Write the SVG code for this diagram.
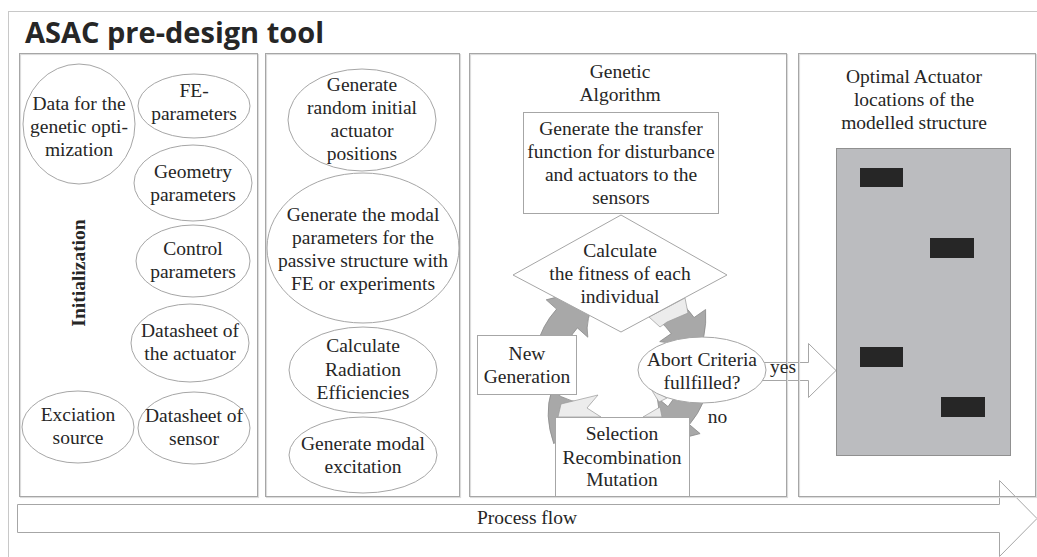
<svg xmlns="http://www.w3.org/2000/svg" width="1037" height="557" viewBox="0 0 1037 557">
<style>
.t{font-family:"Liberation Serif","Times New Roman",serif;font-size:19.5px;fill:#262626;text-anchor:middle}
.b{font-weight:bold}
.title{font-family:"Open Sans","Liberation Sans",sans-serif;font-weight:700;font-size:29px;fill:#262626}
.panel{fill:none;stroke:#a6a6a6;stroke-width:1}
.shadow{fill:none;stroke:#dcdcdc;stroke-width:1.2}
.node{fill:#fff;stroke:#a6a6a6;stroke-width:1}
.ring{fill:#a8a8a8;stroke:#8a8a8a;stroke-width:0.8;stroke-linejoin:round}
.light{fill:#ececec;stroke:#9a9a9a;stroke-width:0.7}
.blk{fill:#262626}
.flow{fill:#fff;stroke:#a6a6a6;stroke-width:1}
</style>
<rect x="0" y="0" width="1037" height="557" fill="#fff"/>
<rect x="8.5" y="11.5" width="1100" height="600" fill="none" stroke="#c8c8c8" stroke-width="1"/>
<text class="title" x="25" y="43">ASAC pre-design tool</text>

<g id="connectors">
  <polygon class="flow" points="17.5,504.5 999.5,504.5 999.5,480.5 1037,518.5 999.5,556.5 999.5,532.5 17.5,532.5"/>
  <polygon class="flow" points="750,362.5 808.5,362.5 808.5,343.5 836,370.5 808.5,397.5 808.5,380.5 750,380.5"/>
  <path class="ring" d="M537.0,390.8 A88,88 0 0 1 556.6,309.1 L546.2,299.8 Q574.2,290.9 596.7,298.5 Q584.6,318.8 587.8,337.2 L577.4,327.9 A60,60 0 0 0 564.0,383.5 Z"/>
  <path class="ring" d="M652.1,285.3 A88,88 0 0 1 694.1,317.5 L705.6,309.5 Q707.4,337.8 695.3,357.7 Q678.1,342.4 659.7,341.6 L671.2,333.6 A60,60 0 0 0 642.5,311.6 Z"/>
  <path class="ring" d="M709.7,375.7 A88,88 0 0 1 689.4,424.6 L700.1,433.6 Q673.9,442.0 652.1,435.6 Q661.6,415.2 657.2,397.6 L668.0,406.6 A60,60 0 0 0 681.8,373.2 Z"/>
  <path class="ring" d="M606.7,454.7 A88,88 0 0 1 563.1,433.4 L553.8,443.8 Q543.7,414.5 551.6,390.9 Q572.0,404.9 591.2,402.2 L581.9,412.6 A60,60 0 0 0 611.6,427.1 Z"/>
  <polygon class="light" points="649,317 685,298 688,313 667,322 660,327"/>
  <polygon class="light" points="558,417 561,404 598,395 587,408 601,417"/>
  <polygon class="light" points="651,389 667,398 659,402"/>
  <polygon class="light" points="643,417 660,407 662,417"/>
</g>

<g id="panels">
  <rect class="shadow" x="20.5" y="54.5" width="238" height="443"/>
  <rect class="panel" x="19.5" y="53.5" width="238" height="443"/>
  <rect class="shadow" x="266.5" y="54.5" width="194" height="443"/>
  <rect class="panel" x="265.5" y="53.5" width="194" height="443"/>
  <rect class="shadow" x="470.5" y="54.5" width="317" height="443"/>
  <rect class="panel" x="469.5" y="53.5" width="317" height="443"/>
  <rect class="shadow" x="799.5" y="54.5" width="237" height="443"/>
  <rect class="panel" x="798.5" y="53.5" width="237" height="443"/>
</g>

<g id="initialization-label">
  <text class="t b" transform="translate(85,273) rotate(-90)">Initialization</text>
</g>
<g id="data-genetic">
  <ellipse class="node" cx="79" cy="124" rx="56" ry="60"/>
  <text class="t" x="79" y="110">Data for the</text>
  <text class="t" x="79" y="133">genetic opti-</text>
  <text class="t" x="79" y="156">mization</text>
</g>
<g id="fe-parameters">
  <ellipse class="node" cx="194" cy="106" rx="56" ry="32"/>
  <text class="t" x="194" y="97">FE-</text>
  <text class="t" x="194" y="120">parameters</text>
</g>
<g id="geometry-parameters">
  <ellipse class="node" cx="193" cy="183" rx="59" ry="38"/>
  <text class="t" x="193" y="178">Geometry</text>
  <text class="t" x="193" y="201">parameters</text>
</g>
<g id="control-parameters">
  <ellipse class="node" cx="193" cy="261" rx="57" ry="36"/>
  <text class="t" x="193" y="255">Control</text>
  <text class="t" x="193" y="278">parameters</text>
</g>
<g id="datasheet-actuator">
  <ellipse class="node" cx="190" cy="343" rx="59" ry="39"/>
  <text class="t" x="190" y="337">Datasheet of</text>
  <text class="t" x="190" y="360">the actuator</text>
</g>
<g id="excitation-source">
  <ellipse class="node" cx="78" cy="427" rx="56" ry="36"/>
  <text class="t" x="78" y="421">Exciation</text>
  <text class="t" x="78" y="444">source</text>
</g>
<g id="datasheet-sensor">
  <ellipse class="node" cx="194" cy="428" rx="56" ry="36"/>
  <text class="t" x="194" y="422">Datasheet of</text>
  <text class="t" x="194" y="445">sensor</text>
</g>

<g id="random-positions">
  <ellipse class="node" cx="362" cy="120" rx="74" ry="51"/>
  <text class="t" x="362" y="91">Generate</text>
  <text class="t" x="362" y="114">random initial</text>
  <text class="t" x="362" y="137">actuator</text>
  <text class="t" x="362" y="160">positions</text>
</g>
<g id="modal-parameters">
  <ellipse class="node" cx="363" cy="248" rx="96" ry="75"/>
  <text class="t" x="363" y="221">Generate the modal</text>
  <text class="t" x="363" y="244">parameters for the</text>
  <text class="t" x="363" y="267">passive structure with</text>
  <text class="t" x="363" y="290">FE or experiments</text>
</g>
<g id="radiation">
  <ellipse class="node" cx="363" cy="370" rx="74" ry="43"/>
  <text class="t" x="363" y="352">Calculate</text>
  <text class="t" x="363" y="375.5">Radiation</text>
  <text class="t" x="363" y="399">Efficiencies</text>
</g>
<g id="modal-excitation">
  <ellipse class="node" cx="363" cy="455" rx="74" ry="38"/>
  <text class="t" x="363" y="450">Generate modal</text>
  <text class="t" x="363" y="473">excitation</text>
</g>

<g id="genetic-title">
  <text class="t" x="620" y="78">Genetic</text>
  <text class="t" x="620" y="101">Algorithm</text>
</g>
<g id="transfer-function">
  <rect class="node" x="523.5" y="112.5" width="195" height="101"/>
  <text class="t" x="621" y="135">Generate the transfer</text>
  <text class="t" x="621" y="158">function for disturbance</text>
  <text class="t" x="621" y="181">and actuators to the</text>
  <text class="t" x="621" y="204">sensors</text>
</g>
<g id="fitness">
  <polygon class="node" points="621,215 727,275 621,332 513,275"/>
  <text class="t" x="620" y="257">Calculate</text>
  <text class="t" x="620" y="280">the fitness of each</text>
  <text class="t" x="620" y="303">individual</text>
</g>
<g id="new-generation">
  <rect class="node" x="477.5" y="335.5" width="99" height="59"/>
  <text class="t" x="527" y="360">New</text>
  <text class="t" x="527" y="383">Generation</text>
</g>
<g id="abort">
  <ellipse class="node" cx="702" cy="370" rx="64" ry="33"/>
  <text class="t" x="702" y="366">Abort Criteria</text>
  <text class="t" x="702" y="389">fullfilled?</text>
</g>
<g id="selection">
  <rect class="node" x="555.5" y="417.5" width="134" height="79"/>
  <text class="t" x="622" y="440">Selection</text>
  <text class="t" x="622" y="464">Recombination</text>
  <text class="t" x="622" y="486">Mutation</text>
</g>

<g id="optimal-locations">
  <text class="t" x="914" y="83">Optimal Actuator</text>
  <text class="t" x="914" y="106">locations of the</text>
  <text class="t" x="914" y="129">modelled structure</text>
  <rect x="836.5" y="148.5" width="174" height="307" fill="#bbbcbf" stroke="#909090" stroke-width="1"/>
  <rect class="blk" x="860" y="168" width="43" height="19"/>
  <rect class="blk" x="930" y="238" width="44" height="20"/>
  <rect class="blk" x="860" y="347" width="43" height="20"/>
  <rect class="blk" x="941" y="397" width="44" height="20"/>
</g>

<g id="labels">
  <text class="t" x="783" y="373">yes</text>
  <text class="t" x="717.5" y="423">no</text>
  <text class="t" x="527" y="524">Process flow</text>
</g>
</svg>
